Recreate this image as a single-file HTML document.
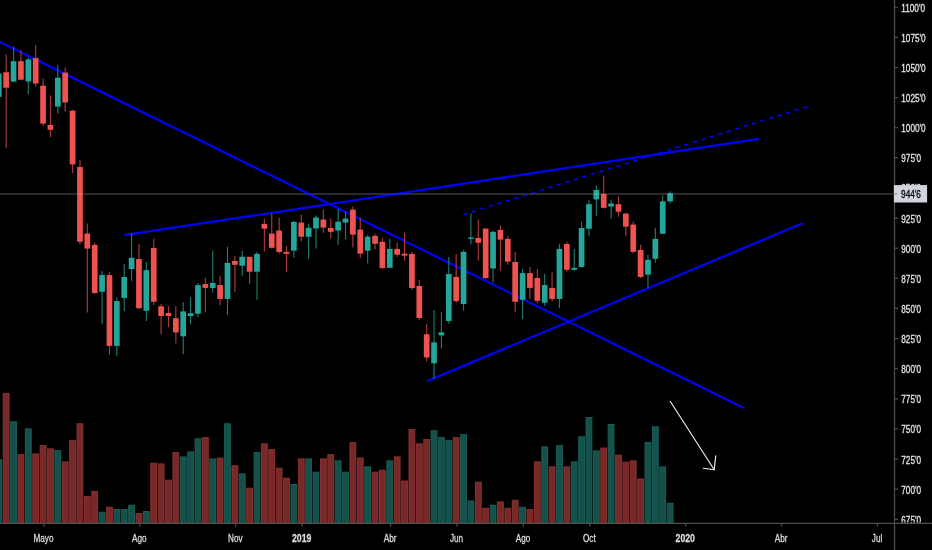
<!DOCTYPE html>
<html lang="es">
<head>
<meta charset="utf-8">
<title>Chart</title>
<style>
html,body{margin:0;padding:0;background:#000;}
body{width:932px;height:550px;overflow:hidden;}
svg{display:block;}
text{font-family:"Liberation Sans",sans-serif;font-size:11px;}
</style>
</head>
<body>
<svg width="932" height="550" viewBox="0 0 932 550">
<rect width="932" height="550" fill="#000"/>
<!-- volume -->
<g fill="#77292a" stroke="#8a302f" stroke-width="1">
<rect x="3.28" y="393.4" width="5.8" height="129.3"/>
<rect x="18.03" y="454.6" width="5.8" height="68.1"/>
<rect x="32.78" y="453.9" width="5.8" height="68.8"/>
<rect x="40.16" y="445.6" width="5.8" height="77.1"/>
<rect x="47.54" y="448.9" width="5.8" height="73.8"/>
<rect x="62.29" y="461.9" width="5.8" height="60.8"/>
<rect x="69.67" y="440.8" width="5.8" height="81.9"/>
<rect x="77.05" y="423.8" width="5.8" height="98.9"/>
<rect x="84.42" y="496.5" width="5.8" height="26.2"/>
<rect x="91.8" y="491.5" width="5.8" height="31.2"/>
<rect x="106.55" y="507.3" width="5.8" height="15.4"/>
<rect x="136.06" y="513.6" width="5.8" height="9.1"/>
<rect x="150.82" y="463.2" width="5.8" height="59.5"/>
<rect x="158.19" y="463.9" width="5.8" height="58.8"/>
<rect x="165.57" y="480.2" width="5.8" height="42.5"/>
<rect x="172.95" y="452.6" width="5.8" height="70.1"/>
<rect x="202.46" y="437.6" width="5.8" height="85.1"/>
<rect x="217.21" y="458.1" width="5.8" height="64.6"/>
<rect x="231.96" y="465.7" width="5.8" height="57"/>
<rect x="246.72" y="488.2" width="5.8" height="34.5"/>
<rect x="261.47" y="443.9" width="5.8" height="78.8"/>
<rect x="268.85" y="449.6" width="5.8" height="73.1"/>
<rect x="276.23" y="468.2" width="5.8" height="54.5"/>
<rect x="283.6" y="478.2" width="5.8" height="44.5"/>
<rect x="298.36" y="458.9" width="5.8" height="63.8"/>
<rect x="320.49" y="458.9" width="5.8" height="63.8"/>
<rect x="327.87" y="454.6" width="5.8" height="68.1"/>
<rect x="350" y="442.6" width="5.8" height="80.1"/>
<rect x="357.37" y="458.1" width="5.8" height="64.6"/>
<rect x="372.13" y="472.2" width="5.8" height="50.5"/>
<rect x="379.5" y="470.2" width="5.8" height="52.5"/>
<rect x="394.26" y="456.9" width="5.8" height="65.8"/>
<rect x="401.64" y="481" width="5.8" height="41.7"/>
<rect x="409.01" y="429.6" width="5.8" height="93.1"/>
<rect x="416.39" y="443.9" width="5.8" height="78.8"/>
<rect x="423.77" y="439.6" width="5.8" height="83.1"/>
<rect x="453.27" y="437.6" width="5.8" height="85.1"/>
<rect x="475.41" y="482.2" width="5.8" height="40.5"/>
<rect x="482.78" y="508.3" width="5.8" height="14.4"/>
<rect x="497.54" y="502" width="5.8" height="20.7"/>
<rect x="504.91" y="508.3" width="5.8" height="14.4"/>
<rect x="512.29" y="500.3" width="5.8" height="22.4"/>
<rect x="527.04" y="509.6" width="5.8" height="13.1"/>
<rect x="534.42" y="461.9" width="5.8" height="60.8"/>
<rect x="549.17" y="466.9" width="5.8" height="55.8"/>
<rect x="563.93" y="466.9" width="5.8" height="55.8"/>
<rect x="600.81" y="448.1" width="5.8" height="74.6"/>
<rect x="615.57" y="455.1" width="5.8" height="67.6"/>
<rect x="622.94" y="462.2" width="5.8" height="60.5"/>
<rect x="630.32" y="460.9" width="5.8" height="61.8"/>
<rect x="637.7" y="479" width="5.8" height="43.7"/>
</g>
<g fill="#15504a" stroke="#1a5e55" stroke-width="1">
<rect x="-4.1" y="459.7" width="5.8" height="63"/>
<rect x="10.65" y="421.8" width="5.8" height="100.9"/>
<rect x="25.41" y="428.8" width="5.8" height="93.9"/>
<rect x="54.92" y="450.6" width="5.8" height="72.1"/>
<rect x="99.18" y="512.3" width="5.8" height="10.4"/>
<rect x="113.93" y="509.6" width="5.8" height="13.1"/>
<rect x="121.31" y="509.6" width="5.8" height="13.1"/>
<rect x="128.69" y="505.3" width="5.8" height="17.4"/>
<rect x="143.44" y="511.6" width="5.8" height="11.1"/>
<rect x="180.32" y="456.9" width="5.8" height="65.8"/>
<rect x="187.7" y="451.9" width="5.8" height="70.8"/>
<rect x="195.08" y="438.8" width="5.8" height="83.9"/>
<rect x="209.83" y="458.9" width="5.8" height="63.8"/>
<rect x="224.59" y="423.8" width="5.8" height="98.9"/>
<rect x="239.34" y="473.9" width="5.8" height="48.8"/>
<rect x="254.09" y="452.6" width="5.8" height="70.1"/>
<rect x="290.98" y="484.5" width="5.8" height="38.2"/>
<rect x="305.73" y="458.9" width="5.8" height="63.8"/>
<rect x="313.11" y="472.2" width="5.8" height="50.5"/>
<rect x="335.24" y="460.9" width="5.8" height="61.8"/>
<rect x="342.62" y="472.2" width="5.8" height="50.5"/>
<rect x="364.75" y="466.9" width="5.8" height="55.8"/>
<rect x="386.88" y="460.9" width="5.8" height="61.8"/>
<rect x="431.14" y="430.8" width="5.8" height="91.9"/>
<rect x="438.52" y="437.6" width="5.8" height="85.1"/>
<rect x="445.9" y="440.6" width="5.8" height="82.1"/>
<rect x="460.65" y="434.6" width="5.8" height="88.1"/>
<rect x="468.03" y="501" width="5.8" height="21.7"/>
<rect x="490.16" y="505.3" width="5.8" height="17.4"/>
<rect x="519.67" y="507.3" width="5.8" height="15.4"/>
<rect x="541.8" y="446.9" width="5.8" height="75.8"/>
<rect x="556.55" y="445.6" width="5.8" height="77.1"/>
<rect x="571.31" y="461.9" width="5.8" height="60.8"/>
<rect x="578.68" y="436.8" width="5.8" height="85.9"/>
<rect x="586.06" y="417.5" width="5.8" height="105.2"/>
<rect x="593.44" y="450.9" width="5.8" height="71.8"/>
<rect x="608.19" y="424.5" width="5.8" height="98.2"/>
<rect x="645.08" y="442.6" width="5.8" height="80.1"/>
<rect x="652.45" y="426.8" width="5.8" height="95.9"/>
<rect x="659.83" y="466.9" width="5.8" height="55.8"/>
<rect x="667.21" y="503.3" width="5.8" height="19.4"/>
</g>
<!-- last price line -->
<path d="M0 193.9H894" stroke="#1d1e20" stroke-width="1.5" fill="none"/>
<!-- drawings -->
<g stroke="#0000ff" stroke-width="2.2" fill="none" stroke-linecap="butt">
<path d="M-6 39.05L743.9 407.9"/>
<path d="M124.3 235.2L759 138.9"/>
<path d="M427.4 381L802.6 223.3"/>
<path d="M807.1 106.6L463.2 214.7" stroke-width="1.55" stroke-dasharray="4.25 4.65" stroke-dashoffset="-0.1"/>
</g>
<g stroke="#f4f4f4" stroke-width="1.1" fill="none" stroke-linecap="round" stroke-linejoin="round">
<path d="M670.2 401.3L714.2 469.8"/>
<path d="M715.7 455.9L714.2 469.8L703.3 468.3"/>
</g>
<!-- candles -->
<path d="M6.18 54.3V147.9M20.93 50.3V80.3M35.68 45.1V86.5M43.06 78.6V126M50.44 95.6V136.9M65.19 67.4V111.8M72.57 109.8V173.1M79.95 160.1V244.5M87.32 223.6V312.4M94.7 242.6V293.8M109.45 272V354.7M138.96 243.9V309.1M153.72 238.7V305M161.09 304.1V334.3M168.47 306.3V327.2M175.85 306.2V343.4M205.36 278V312.2M220.11 276V304.9M234.86 255.8V291.8M249.62 256.8V283.8M264.37 218.4V251.5M271.75 213.6V248.5M279.13 217.5V253.6M286.5 246.1V271.7M301.26 214.5V241.6M323.39 209.5V232.7M330.76 218.6V238.6M352.9 206.4V247.6M360.27 217.6V257.8M375.03 233.7V249.6M382.4 238V268.9M397.16 242.7V256.7M404.54 232.7V260.8M411.91 252V289.9M419.29 279.8V320.1M426.67 324.2V361.4M456.17 254V302.8M478.31 219.6V260.7M485.68 228.6V278.9M500.44 225.6V270.7M507.81 235.7V264.8M515.19 252.1V311.8M529.94 267V298.9M537.32 268.9V302.7M552.07 271.8V301.8M566.83 241.8V271.8M603.71 175.8V208.5M618.47 196.5V216.7M625.84 212.6V235.7M633.22 221.6V253.6M640.6 244.7V277.9" stroke="#a83b39" stroke-width="1.15" fill="none"/>
<path d="M13.55 46.4V82.5M28.31 57.4V94.5M57.82 65.1V113.7M102.08 271V324.1M116.83 297.3V356.3M124.21 263.9V311.2M131.59 233.3V280.9M146.34 261.9V321.1M183.22 302.1V354.3M190.6 297.2V324M197.98 283.1V317.2M212.73 250.6V292.8M227.49 246.8V315M242.24 250.9V275.8M257 251.9V299.8M293.88 221V257.7M308.63 223.5V258.8M316.01 215.4V248.5M338.14 208.9V244.7M345.52 211.8V239.5M367.65 235V263.6M389.78 238.9V267.8M434.04 309.9V379M441.42 311.9V348.4M448.8 257V323.8M463.55 249.9V310.8M470.93 213.4V244.4M493.06 230.8V282.7M522.57 268.9V318.9M544.7 274.1V305.7M559.45 243.7V307.9M574.21 248.9V270.8M581.58 221.6V267.9M588.96 200.3V235.8M596.34 185.2V215.8M611.09 199.4V218.8M647.98 254.9V287.8M655.35 227.8V262.8M662.73 195.5V233.7M670.11 191.3V203.5" stroke="#1c7a71" stroke-width="1.15" fill="none"/>
<g fill="#ef5350">
<rect x="3.33" y="72.3" width="5.7" height="15.4"/>
<rect x="18.08" y="61.2" width="5.7" height="18.5"/>
<rect x="32.83" y="58.1" width="5.7" height="25.4"/>
<rect x="40.21" y="85.7" width="5.7" height="37.9"/>
<rect x="47.59" y="124.9" width="5.7" height="4.9"/>
<rect x="62.34" y="72.6" width="5.7" height="29.8"/>
<rect x="69.72" y="110.7" width="5.7" height="53.7"/>
<rect x="77.1" y="167" width="5.7" height="74.7"/>
<rect x="84.47" y="233.5" width="5.7" height="15.1"/>
<rect x="91.85" y="244.9" width="5.7" height="48.1"/>
<rect x="106.61" y="275.1" width="5.7" height="70.8"/>
<rect x="136.11" y="259" width="5.7" height="49.2"/>
<rect x="150.87" y="247.9" width="5.7" height="53.9"/>
<rect x="158.24" y="306.3" width="5.7" height="9.7"/>
<rect x="165.62" y="313" width="5.7" height="3"/>
<rect x="173" y="318.2" width="5.7" height="14.2"/>
<rect x="202.51" y="284" width="5.7" height="3.9"/>
<rect x="217.26" y="285.1" width="5.7" height="13.8"/>
<rect x="232.01" y="261" width="5.7" height="3.8"/>
<rect x="246.77" y="256.8" width="5.7" height="14.9"/>
<rect x="261.52" y="223.9" width="5.7" height="4.8"/>
<rect x="268.9" y="233.6" width="5.7" height="14.2"/>
<rect x="276.28" y="230.6" width="5.7" height="21.3"/>
<rect x="283.65" y="251.9" width="5.7" height="2"/>
<rect x="298.41" y="222.6" width="5.7" height="14.1"/>
<rect x="320.54" y="219.5" width="5.7" height="8.1"/>
<rect x="327.91" y="227.9" width="5.7" height="3.9"/>
<rect x="350.05" y="209.6" width="5.7" height="25"/>
<rect x="357.42" y="229.6" width="5.7" height="24.1"/>
<rect x="372.18" y="235.9" width="5.7" height="7.9"/>
<rect x="379.55" y="241.8" width="5.7" height="26.2"/>
<rect x="394.31" y="248.9" width="5.7" height="5.8"/>
<rect x="401.69" y="253.7" width="5.7" height="1.9"/>
<rect x="409.06" y="253.9" width="5.7" height="34.1"/>
<rect x="416.44" y="286" width="5.7" height="32"/>
<rect x="423.82" y="334.3" width="5.7" height="23.2"/>
<rect x="453.32" y="276.9" width="5.7" height="24.2"/>
<rect x="475.45" y="237.9" width="5.7" height="4.9"/>
<rect x="482.83" y="228.6" width="5.7" height="49.4"/>
<rect x="497.59" y="229.9" width="5.7" height="9.7"/>
<rect x="504.96" y="238.9" width="5.7" height="22.7"/>
<rect x="512.34" y="262" width="5.7" height="39.8"/>
<rect x="527.09" y="273.1" width="5.7" height="14.8"/>
<rect x="534.47" y="278" width="5.7" height="22.8"/>
<rect x="549.22" y="287.9" width="5.7" height="11"/>
<rect x="563.98" y="244" width="5.7" height="25.8"/>
<rect x="600.86" y="193.9" width="5.7" height="13.9"/>
<rect x="615.62" y="204.2" width="5.7" height="7.5"/>
<rect x="622.99" y="213.6" width="5.7" height="13"/>
<rect x="630.37" y="224.6" width="5.7" height="27.2"/>
<rect x="637.75" y="249.9" width="5.7" height="27"/>
</g>
<g fill="#26a69a">
<rect x="-4.05" y="73.6" width="5.7" height="23.2"/>
<rect x="10.7" y="61.2" width="5.7" height="20.4"/>
<rect x="25.46" y="59.4" width="5.7" height="22"/>
<rect x="54.97" y="77.7" width="5.7" height="28.9"/>
<rect x="99.23" y="275.1" width="5.7" height="16.7"/>
<rect x="113.98" y="301.1" width="5.7" height="44.8"/>
<rect x="121.36" y="277" width="5.7" height="20.9"/>
<rect x="128.74" y="257.8" width="5.7" height="11.2"/>
<rect x="143.49" y="270.1" width="5.7" height="40.7"/>
<rect x="180.38" y="311.4" width="5.7" height="24.9"/>
<rect x="187.75" y="313.2" width="5.7" height="2.8"/>
<rect x="195.13" y="285.1" width="5.7" height="28.6"/>
<rect x="209.88" y="283" width="5.7" height="4.9"/>
<rect x="224.64" y="262.9" width="5.7" height="36"/>
<rect x="239.39" y="256.8" width="5.7" height="8.9"/>
<rect x="254.15" y="253.9" width="5.7" height="17.8"/>
<rect x="291.03" y="221.9" width="5.7" height="28.7"/>
<rect x="305.78" y="227.8" width="5.7" height="9"/>
<rect x="313.16" y="217.5" width="5.7" height="11"/>
<rect x="335.29" y="221.7" width="5.7" height="8.8"/>
<rect x="342.67" y="218.6" width="5.7" height="3.9"/>
<rect x="364.8" y="236.7" width="5.7" height="14"/>
<rect x="386.93" y="248.9" width="5.7" height="18.9"/>
<rect x="431.19" y="342.4" width="5.7" height="20.9"/>
<rect x="438.57" y="332.3" width="5.7" height="3.1"/>
<rect x="445.95" y="274" width="5.7" height="47"/>
<rect x="460.7" y="251.8" width="5.7" height="52.2"/>
<rect x="468.08" y="237.5" width="5.7" height="1.4"/>
<rect x="490.21" y="231.8" width="5.7" height="36.7"/>
<rect x="519.72" y="273.1" width="5.7" height="26.7"/>
<rect x="541.85" y="285.1" width="5.7" height="17.6"/>
<rect x="556.6" y="248.9" width="5.7" height="50"/>
<rect x="571.36" y="267.8" width="5.7" height="2"/>
<rect x="578.73" y="228" width="5.7" height="39"/>
<rect x="586.11" y="204.2" width="5.7" height="24.5"/>
<rect x="593.49" y="190" width="5.7" height="9.4"/>
<rect x="608.24" y="203.5" width="5.7" height="3"/>
<rect x="645.13" y="259.8" width="5.7" height="14.9"/>
<rect x="652.5" y="238.9" width="5.7" height="19.9"/>
<rect x="659.88" y="201.4" width="5.7" height="32.3"/>
<rect x="667.26" y="193.2" width="5.7" height="8.2"/>
</g>
<path d="M0 193.9H894" stroke="#ffffff" stroke-opacity="0.12" stroke-width="1.5" fill="none"/>
<!-- axes -->
<rect x="895" y="523.3" width="37" height="27" fill="#000"/>
<path d="M0 523.3H932" stroke="#4e4e4e" stroke-width="1.3" fill="none"/>
<path d="M894.5 0V550" stroke="#4e4e4e" stroke-width="1.3" fill="none"/>
<path d="M894.4 7.25H898M894.4 37.37H898M894.4 67.49H898M894.4 97.61H898M894.4 127.73H898M894.4 157.85H898M894.4 187.97H898M894.4 218.09H898M894.4 248.21H898M894.4 278.33H898M894.4 308.45H898M894.4 338.57H898M894.4 368.69H898M894.4 398.81H898M894.4 428.93H898M894.4 459.05H898M894.4 489.17H898M894.4 519.29H898M43.86 523V526.6M139.76 523V526.6M235.66 523V526.6M302.06 523V526.6M390.58 523V526.6M456.97 523V526.6M523.37 523V526.6M589.76 523V526.6M685.66 523V526.6M781.56 523V526.6M877.46 523V526.6" stroke="#4e4e4e" stroke-width="1.2" fill="none"/>
<g fill="#e4e4e4" stroke="#e4e4e4" stroke-width="0.3" clip-path="url(#pc)">
<text transform="translate(901.3 11.7) scale(0.745 1)">1100'0</text>
<text transform="translate(901.3 41.82) scale(0.745 1)">1075'0</text>
<text transform="translate(901.3 71.94) scale(0.745 1)">1050'0</text>
<text transform="translate(901.3 102.06) scale(0.745 1)">1025'0</text>
<text transform="translate(901.3 132.18) scale(0.745 1)">1000'0</text>
<text transform="translate(901.3 162.3) scale(0.745 1)">975'0</text>
<text transform="translate(901.3 192.42) scale(0.745 1)">950'0</text>
<text transform="translate(901.3 222.54) scale(0.745 1)">925'0</text>
<text transform="translate(901.3 252.66) scale(0.745 1)">900'0</text>
<text transform="translate(901.3 282.78) scale(0.745 1)">875'0</text>
<text transform="translate(901.3 312.9) scale(0.745 1)">850'0</text>
<text transform="translate(901.3 343.02) scale(0.745 1)">825'0</text>
<text transform="translate(901.3 373.14) scale(0.745 1)">800'0</text>
<text transform="translate(901.3 403.26) scale(0.745 1)">775'0</text>
<text transform="translate(901.3 433.38) scale(0.745 1)">750'0</text>
<text transform="translate(901.3 463.5) scale(0.745 1)">725'0</text>
<text transform="translate(901.3 493.62) scale(0.745 1)">700'0</text>
<text transform="translate(901.3 523.74) scale(0.745 1)">675'0</text>
</g>
<clipPath id="pc"><rect x="895" y="0" width="37" height="522.6"/></clipPath>
<g fill="#dcdcdc" stroke="#dcdcdc" stroke-width="0.3">
<text transform="translate(43.46 541.7) scale(0.745 1)" text-anchor="middle">Mayo</text>
<text transform="translate(139.36 541.7) scale(0.745 1)" text-anchor="middle">Ago</text>
<text transform="translate(235.26 541.7) scale(0.745 1)" text-anchor="middle">Nov</text>
<text transform="translate(301.66 541.7) scale(0.79 1)" text-anchor="middle" font-weight="bold">2019</text>
<text transform="translate(390.18 541.7) scale(0.745 1)" text-anchor="middle">Abr</text>
<text transform="translate(456.57 541.7) scale(0.745 1)" text-anchor="middle">Jun</text>
<text transform="translate(522.97 541.7) scale(0.745 1)" text-anchor="middle">Ago</text>
<text transform="translate(589.36 541.7) scale(0.745 1)" text-anchor="middle">Oct</text>
<text transform="translate(685.26 541.7) scale(0.79 1)" text-anchor="middle" font-weight="bold">2020</text>
<text transform="translate(781.16 541.7) scale(0.745 1)" text-anchor="middle">Abr</text>
<text transform="translate(877.06 541.7) scale(0.745 1)" text-anchor="middle">Jul</text>
</g>
<!-- last price label -->
<rect x="893.9" y="185.1" width="33.2" height="17.4" fill="#d1d4dc"/>
<path d="M894 194H897.5" stroke="#80828a" stroke-width="1"/>
<text transform="translate(901.1 197.6) scale(0.745 1)" fill="#0c0c10" stroke="#0c0c10" stroke-width="0.4">944'6</text>
</svg>
</body>
</html>
